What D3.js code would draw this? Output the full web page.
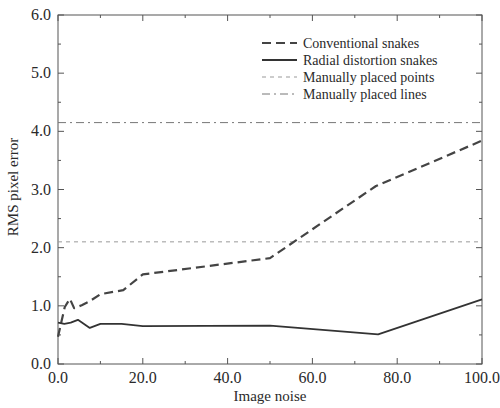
<!DOCTYPE html>
<html>
<head>
<meta charset="utf-8">
<script src="https://cdn.jsdelivr.net/npm/d3@7"></script>
<style>
    body { margin: 0; background: #fff; }
    text { font-family: "Liberation Serif", "Times New Roman", serif; fill: #2a2a2a; }
</style>
</head>
<body>
<svg id="chart" width="500" height="408"></svg>
<script>
// Data
const conventionalX = [0, 1.6, 2.8, 3.8, 5.6, 7.5, 10, 15.4, 20, 50, 75, 100];
const conventionalY = [0.47, 0.98, 1.12, 0.96, 1.01, 1.08, 1.2, 1.27, 1.54, 1.82, 3.06, 3.84];
const radialX = [0, 1.5, 3, 4.7, 7.5, 10, 15, 20, 50, 75.5, 100];
const radialY = [0.71, 0.69, 0.71, 0.76, 0.62, 0.69, 0.69, 0.65, 0.66, 0.51, 1.11];
const manualPoints = 2.1;
const manualLines = 4.15;
const xTicks = [0, 20, 40, 60, 80, 100];
const yTicks = [0, 1, 2, 3, 4, 5, 6];
const legendLabels = ["Conventional snakes", "Radial distortion snakes", "Manually placed points", "Manually placed lines"];

const svg = d3.select("#chart");
const plotLeft = 58, plotRight = 482, plotTop = 15, plotBottom = 364;

const x = d3.scaleLinear().domain([0, 100]).range([plotLeft, plotRight]);
const y = d3.scaleLinear().domain([0, 6]).range([plotBottom, plotTop]);

const styles = [
    { color: "#444", width: 2.2, dash: "9,5" },
    { color: "#333", width: 1.8, dash: null },
    { color: "#999", width: 1, dash: "4,4" },
    { color: "#777", width: 1, dash: "8,4,2,4" }
];

// Frame
svg.append("rect")
    .attr("x", plotLeft).attr("y", plotTop)
    .attr("width", plotRight - plotLeft).attr("height", plotBottom - plotTop)
    .attr("fill", "none").attr("stroke", "#555").attr("stroke-width", 1);

// Ticks on all four sides, pointing in
const minorX = d3.range(10, 100, 20);
const minorY = d3.range(0.5, 6, 1);
const tickLine = (x1, y1, x2, y2) => svg.append("line")
    .attr("x1", x1).attr("y1", y1).attr("x2", x2).attr("y2", y2)
    .attr("stroke", "#555").attr("stroke-width", 1);
xTicks.forEach((v) => { tickLine(x(v), plotBottom, x(v), plotBottom - 6); tickLine(x(v), plotTop, x(v), plotTop + 6); });
minorX.forEach((v) => { tickLine(x(v), plotBottom, x(v), plotBottom - 3); tickLine(x(v), plotTop, x(v), plotTop + 3); });
yTicks.forEach((v) => { tickLine(plotLeft, y(v), plotLeft + 6, y(v)); tickLine(plotRight, y(v), plotRight - 6, y(v)); });
minorY.forEach((v) => { tickLine(plotLeft, y(v), plotLeft + 3, y(v)); tickLine(plotRight, y(v), plotRight - 3, y(v)); });

// Tick labels
svg.selectAll(".x-label").data(xTicks).enter().append("text")
    .attr("x", (d) => x(d)).attr("y", 383)
    .attr("text-anchor", "middle").attr("font-size", 16)
    .text((d) => d.toFixed(1));
svg.selectAll(".y-label").data(yTicks).enter().append("text")
    .attr("x", 51).attr("y", (d) => y(d) + 5)
    .attr("text-anchor", "end").attr("font-size", 16)
    .text((d) => d.toFixed(1));

// Axis titles
svg.append("text")
    .attr("x", 270).attr("y", 401)
    .attr("text-anchor", "middle").attr("font-size", 15)
    .text("Image noise");
svg.append("text")
    .attr("transform", "translate(18 187) rotate(-90)")
    .attr("text-anchor", "middle").attr("font-size", 15)
    .text("RMS pixel error");

// Horizontal reference lines
[manualPoints, manualLines].forEach((v, i) => {
    const s = styles[i + 2];
    svg.append("line")
        .attr("x1", plotLeft).attr("x2", plotRight)
        .attr("y1", y(v)).attr("y2", y(v))
        .attr("stroke", s.color).attr("stroke-width", s.width)
        .attr("stroke-dasharray", s.dash);
});

// Series
const line = d3.line().x((d) => x(d[0])).y((d) => y(d[1]));
const series = [d3.zip(conventionalX, conventionalY), d3.zip(radialX, radialY)];
series.forEach((data, i) => {
    const s = styles[i];
    svg.append("path")
        .attr("d", line(data))
        .attr("fill", "none")
        .attr("stroke", s.color).attr("stroke-width", s.width)
        .attr("stroke-dasharray", s.dash)
        .attr("stroke-linejoin", "round");
});

// Legend
const legend = svg.append("g");
legendLabels.forEach((label, i) => {
    const s = styles[i];
    const ly = 43 + i * 17;
    legend.append("line")
        .attr("x1", 262).attr("x2", 297)
        .attr("y1", ly).attr("y2", ly)
        .attr("stroke", s.color).attr("stroke-width", s.width)
        .attr("stroke-dasharray", s.dash);
    legend.append("text")
        .attr("x", 303).attr("y", ly + 4.5)
        .attr("font-size", 14)
        .text(label);
});
</script>
</body>
</html>
